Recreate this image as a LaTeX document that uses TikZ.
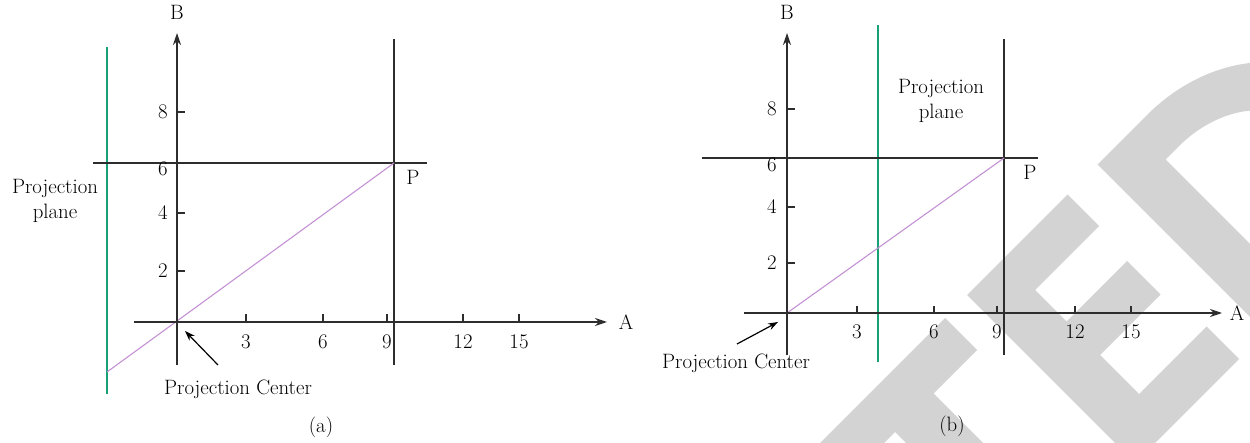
\documentclass[tikz,border=0pt]{standalone}
\usepackage{fontspec}
\usetikzlibrary{arrows.meta}
\definecolor{axisgray}{RGB}{45,45,45}
\definecolor{planegreen}{RGB}{24,160,118}
\definecolor{raypurple}{RGB}{196,146,212}
\definecolor{wmgray}{RGB}{211,211,211}
\begin{document}
\begin{tikzpicture}[x=1pt,y=-1pt,
  txt/.style={font=\fontsize{20.8}{24.5}\selectfont, inner sep=0pt, text=black},
  axisline/.style={draw=axisgray, line width=1.7pt, -{Stealth[length=12pt,width=8pt]}},
  tickline/.style={draw=axisgray, line width=1.3pt},
  guide/.style={draw=axisgray, line width=1.4pt},
  plane/.style={draw=planegreen, line width=1.6pt},
  ray/.style={draw=raypurple, line width=1.1pt},
  pointer/.style={draw=black, line width=1.2pt, -{Stealth[length=10pt,width=7pt]}},
  wm/.style={fill=wmgray}
]
\useasboundingbox (0,0) rectangle (1250,443);

% ---- watermark (partial letters T, E, D) ----
\begin{scope}
  \clip (0,0) rectangle (1250,443);
  \begin{scope}[x={(0.5pt,0.5pt)}, y={(0.5pt,-0.5pt)}]
    \fill[wm] (376,1263) -- (627,1263) -- (627,1327) -- (540,1327) -- (540,1598)
      -- (463,1598) -- (463,1327) -- (376,1327) -- cycle;
    \fill[wm] (672,1262) -- (873,1262) -- (873,1325) -- (745,1325) -- (745,1388)
      -- (866,1388) -- (866,1455) -- (745,1455) -- (745,1533) -- (880,1533)
      -- (880,1598) -- (672,1598) -- cycle;
    \fill[wm, even odd rule] (933,1598) -- (933,1262) -- (1032,1262)
      arc[start angle=-90, end angle=90, x radius=216, y radius=168] -- cycle
      (1006,1325) -- (1032,1325)
      arc[start angle=-90, end angle=90, x radius=143, y radius=105] -- (1006,1535) -- cycle;
  \end{scope}
\end{scope}

% ================= Panel (a) =================
\coordinate (aO) at (177,322);
\coordinate (aYb) at (177,365);
\coordinate (aYt) at (177,33);
\coordinate (aXl) at (134,322);
\coordinate (aXr) at (607,322);
\coordinate (aHl) at (93,163);
\coordinate (aHr) at (427,163);
\coordinate (aVt) at (394,39);
\coordinate (aVb) at (394,365);
\coordinate (aGt) at (107,47);
\coordinate (aGb) at (107,394);
\coordinate (aRs) at (107,372);
\coordinate (aP) at (394,163);
\coordinate (aCt) at (218,365);
\coordinate (aCh) at (185,331);

\draw[plane] (aGt) -- (aGb);
\draw[guide] (aHl) -- (aHr);
\draw[guide] (aVt) -- (aVb);
\draw[ray] (aRs) -- (aP);
\draw[axisline] (aYb) -- (aYt);
\draw[axisline] (aXl) -- (aXr);
\node[txt] (aB) at (177,12) {B};
\node[txt] (aA) at (626,322) {A};
\foreach \x/\l in {246/3,323/6,387/9,463/12,519/15}{
  \draw[tickline] (\x,322) -- (\x,314);
  \node[txt] (ax\l) at (\x,342) {\l};
}
\foreach \y/\l/\ly in {112/8/112,163/6/169,213/4/213,271/2/271}{
  \draw[tickline] (177,\y) -- (185,\y);
  \node[txt] (ay\l) at (163,\ly) {\l};
}
\node[txt] (aPl) at (413,177) {P};
\node[txt, align=center] (aPlane) at (55,201) {Projection\\plane};
\node[txt] (aCenter) at (238,389) {Projection Center};
\draw[pointer] (aCt) -- (aCh);
\node[txt] (aCap) at (321,427) {(a)};

% ================= Panel (b) =================
\coordinate (bO) at (787,313);
\coordinate (bYb) at (787,355);
\coordinate (bYt) at (787,33);
\coordinate (bXl) at (744,313);
\coordinate (bXr) at (1222,313);
\coordinate (bHl) at (702,158);
\coordinate (bHr) at (1038,158);
\coordinate (bVt) at (1004,39);
\coordinate (bVb) at (1004,355);
\coordinate (bGt) at (878,25);
\coordinate (bGb) at (878,362);
\coordinate (bP) at (1004,158);
\coordinate (bCt) at (737,344);
\coordinate (bCh) at (778,322);

\draw[plane] (bGt) -- (bGb);
\draw[guide] (bHl) -- (bHr);
\draw[guide] (bVt) -- (bVb);
\draw[ray] (bO) -- (bP);
\draw[axisline] (bYb) -- (bYt);
\draw[axisline] (bXl) -- (bXr);
\node[txt] (bB) at (787,12) {B};
\node[txt] (bA) at (1237,313) {A};
\foreach \x/\l in {857/3,934/6,997/9,1075/12,1131/15}{
  \draw[tickline] (\x,313) -- (\x,306);
  \node[txt] (bx\l) at (\x,332) {\l};
}
\foreach \y/\l/\ly in {109/8/109,158/6/165,207/4/207,263/2/263}{
  \draw[tickline] (787,\y) -- (795,\y);
  \node[txt] (by\l) at (772,\ly) {\l};
}
\node[txt] (bPl) at (1030,172) {P};
\node[txt, align=center] (bPlane) at (941,101) {Projection\\plane};
\node[txt] (bCenter) at (736,363) {Projection Center};
\draw[pointer] (bCt) -- (bCh);
\node[txt] (bCap) at (952,426) {(b)};
\end{tikzpicture}
\end{document}
